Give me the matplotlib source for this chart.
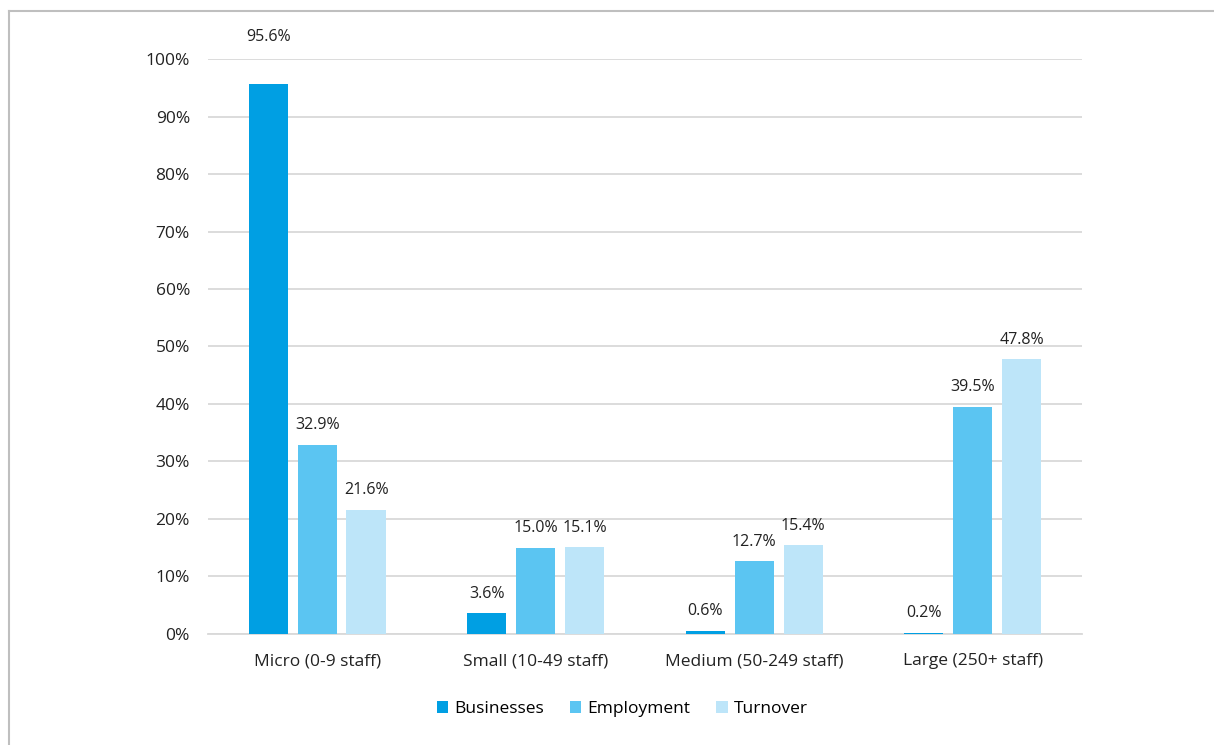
"""Share of businesses, employment and turnover by business size"""

import matplotlib.pyplot as plt
import numpy as np
from matplotlib.lines import Line2D
from matplotlib.ticker import FuncFormatter, MultipleLocator

plt.rcParams["font.family"] = ["Open Sans", "DejaVu Sans"]

categories = ["Micro (0-9 staff)", "Small (10-49 staff)",
              "Medium (50-249 staff)", "Large (250+ staff)"]
series_names = ["Businesses", "Employment", "Turnover"]
businesses = [95.6, 3.6, 0.6, 0.2]
employment = [32.9, 15.0, 12.7, 39.5]
turnover = [21.6, 15.1, 15.4, 47.8]
colors = ["#009FE3", "#5BC5F2", "#BDE5F9"]


def main():
    fig = plt.figure(figsize=(12.14, 7.45), dpi=100)
    ax = fig.add_axes([0.1713, 0.149, 0.72, 0.7718])

    x = np.arange(len(categories))
    width = 0.18
    pitch = 0.224
    for i, (name, vals) in enumerate(zip(series_names,
                                         [businesses, employment, turnover])):
        pos = x + (i - 1) * pitch
        ax.bar(pos, vals, width, color=colors[i], label=name, zorder=3)
        for px, v in zip(pos, vals):
            # keep the tallest label clear of the top gridline
            off = 34 if v > 90 else 14
            ax.annotate(f"{v:.1f}%", (px, v), xytext=(0, off),
                        textcoords="offset points", ha="center", va="center",
                        fontsize=11.5, color="#222222")

    ax.set_xlim(-0.5, len(categories) - 0.5)
    ax.set_ylim(0, 100)
    ax.yaxis.set_major_locator(MultipleLocator(10))
    ax.yaxis.set_major_formatter(FuncFormatter(lambda v, _: f"{v:.0f}%"))
    ax.set_xticks(x)
    ax.set_xticklabels(categories)
    ax.tick_params(axis="both", length=0, labelsize=12.5, colors="#222222")
    ax.tick_params(axis="y", pad=13)
    ax.tick_params(axis="x", pad=14)
    ax.grid(axis="y", color="#D9D9D9", linewidth=1.3, zorder=0)
    for side in ["top", "right", "left"]:
        ax.spines[side].set_visible(False)
    ax.spines["bottom"].set_color("#D9D9D9")
    ax.spines["bottom"].set_linewidth(1.3)

    ax.legend(loc="upper center", bbox_to_anchor=(0.474, -0.09), ncol=3,
              frameon=False, fontsize=12.5, handlelength=0.65, handleheight=0.65,
              handletextpad=0.35, columnspacing=1.5)

    # light frame drawn along the left and top edges
    fig.add_artist(Line2D([9 / 1214, 9 / 1214], [0, 1 - 11 / 745],
                          transform=fig.transFigure, color="#BFBFBF", lw=1.5))
    fig.add_artist(Line2D([9 / 1214, 1], [1 - 11 / 745, 1 - 11 / 745],
                          transform=fig.transFigure, color="#BFBFBF", lw=1.5))

    fig.savefig("out.png", dpi=100)


if __name__ == "__main__":
    main()
